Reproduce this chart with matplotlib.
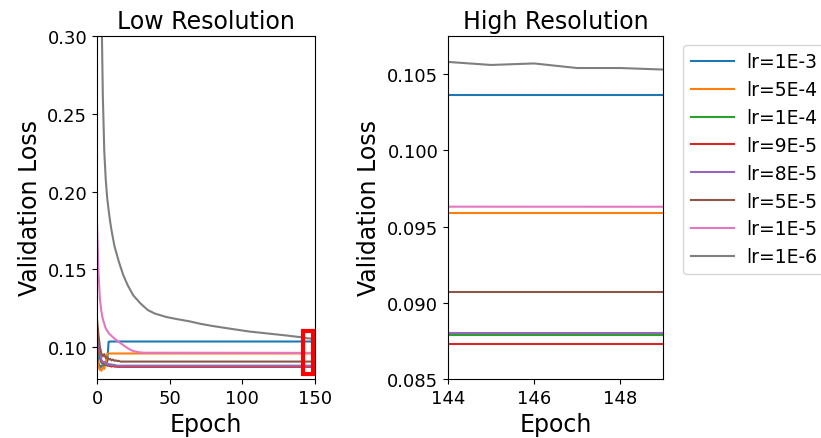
import matplotlib
matplotlib.use("Agg")
import matplotlib.pyplot as plt
from matplotlib.patches import Rectangle

labels = ["lr=1E-3", "lr=5E-4", "lr=1E-4", "lr=9E-5", "lr=8E-5", "lr=5E-5", "lr=1E-5", "lr=1E-6"]
colors = ["#1f77b4", "#ff7f0e", "#2ca02c", "#d62728", "#9467bd", "#8c564b", "#e377c2", "#7f7f7f"]

ep_1e3 = [0, 1, 2, 3, 4, 5, 6, 7, 8, 9, 149]
loss_1e3 = [0.0985, 0.0900, 0.0865, 0.0880, 0.0870, 0.0890, 0.0900, 0.0905, 0.1034, 0.1036, 0.1036]

ep_5e4 = [0, 1, 2, 3, 4, 5, 6, 7, 8, 149]
loss_5e4 = [0.0930, 0.0875, 0.0855, 0.0848, 0.0870, 0.0860, 0.0905, 0.0955, 0.0959, 0.0959]

ep_1e4 = [0, 1, 2, 3, 4, 5, 6, 7, 8, 9, 10, 11, 12, 13, 14, 149]
loss_1e4 = [0.1080, 0.0980, 0.0930, 0.0900, 0.0890, 0.0885, 0.0895, 0.0880, 0.0890, 0.0882,
            0.0888, 0.0880, 0.0885, 0.0880, 0.0879, 0.0879]

ep_9e5 = [0, 1, 2, 3, 4, 5, 6, 7, 8, 9, 10, 11, 12, 13, 14, 149]
loss_9e5 = [0.1100, 0.1000, 0.0940, 0.0910, 0.0895, 0.0900, 0.0885, 0.0890, 0.0880, 0.0878,
            0.0875, 0.0880, 0.0874, 0.0875, 0.0873, 0.0873]

ep_8e5 = [0, 1, 2, 3, 4, 5, 6, 7, 8, 9, 10, 11, 12, 13, 14, 149]
loss_8e5 = [0.1120, 0.1030, 0.0960, 0.0920, 0.0900, 0.0905, 0.0890, 0.0895, 0.0885, 0.0890,
            0.0883, 0.0887, 0.0881, 0.0882, 0.0880, 0.0880]

ep_5e5 = [0, 1, 2, 3, 4, 5, 6, 7, 8, 9, 10, 11, 12, 13, 14, 15, 16, 149]
loss_5e5 = [0.1180, 0.1080, 0.1000, 0.0960, 0.0940, 0.0955, 0.0930, 0.0935, 0.0920, 0.0925,
            0.0915, 0.0920, 0.0912, 0.0915, 0.0910, 0.0912, 0.0907, 0.0907]

ep_1e5 = [0, 1, 2, 3, 4, 5, 6, 8, 10, 12, 14, 17, 20, 22, 24, 26, 28, 30, 32, 149]
loss_1e5 = [0.1800, 0.1480, 0.1310, 0.1230, 0.1180, 0.1150, 0.1120, 0.1090, 0.1072, 0.1055,
            0.1040, 0.1020, 0.1000, 0.0988, 0.0978, 0.0972, 0.0968, 0.0966, 0.0964, 0.0963]

ep_1e6 = [0, 1, 2, 3, 4, 5, 6, 7, 8, 9, 10, 12, 15, 18, 21, 25, 30, 35, 40, 48, 55, 64,
          71, 80, 94, 105, 117, 130, 140, 144, 145, 146, 147, 148, 149]
loss_1e6 = [1.0000, 0.6000, 0.4200, 0.3250, 0.2620, 0.2260, 0.2080, 0.1960, 0.1880, 0.1810,
            0.1750, 0.1650, 0.1550, 0.1465, 0.1400, 0.1332, 0.1280, 0.1238, 0.1215, 0.1193,
            0.1180, 0.1165, 0.1150, 0.1135, 0.1115, 0.1100, 0.1088, 0.1075, 0.1064, 0.1058,
            0.1056, 0.1057, 0.1054, 0.1054, 0.1053]

epochs = [ep_1e3, ep_5e4, ep_1e4, ep_9e5, ep_8e5, ep_5e5, ep_1e5, ep_1e6]
losses = [loss_1e3, loss_5e4, loss_1e4, loss_9e5, loss_8e5, loss_5e5, loss_1e5, loss_1e6]

fig = plt.figure(figsize=(8.21, 4.39), dpi=100)
ax1 = fig.add_axes([97 / 821, 1 - 380 / 439, 218 / 821, 343 / 439])
ax2 = fig.add_axes([448 / 821, 1 - 380 / 439, 215 / 821, 343 / 439])

for ep, ls, lab, c in zip(epochs, losses, labels, colors):
    ax1.plot(ep, ls, color=c, lw=1.5, label=lab)
    ax2.plot(ep, ls, color=c, lw=1.5, label=lab)

tick_fs = 13
label_fs = 17
title_fs = 17

ax1.set_xlim(0, 150)
ax1.set_ylim(0.0795, 0.30)
ax1.set_xticks([0, 50, 100, 150])
ax1.set_yticks([0.10, 0.15, 0.20, 0.25, 0.30])
ax1.set_yticklabels(["0.10", "0.15", "0.20", "0.25", "0.30"])
ax1.set_title("Low Resolution", fontsize=title_fs)
ax1.set_xlabel("Epoch", fontsize=label_fs)
ax1.set_ylabel("Validation Loss", fontsize=label_fs)
ax1.tick_params(labelsize=tick_fs)
ax1.add_patch(Rectangle((141.5, 0.0828), 7.1, 0.0274, fill=False, edgecolor="red",
                        lw=3, clip_on=False, zorder=5))

ax2.set_xlim(144, 149)
ax2.set_ylim(0.085, 0.1075)
ax2.set_xticks([144, 146, 148])
ax2.set_yticks([0.085, 0.090, 0.095, 0.100, 0.105])
ax2.set_yticklabels(["0.085", "0.090", "0.095", "0.100", "0.105"])
ax2.set_title("High Resolution", fontsize=title_fs)
ax2.set_xlabel("Epoch", fontsize=label_fs)
ax2.set_ylabel("Validation Loss", fontsize=label_fs)
ax2.tick_params(labelsize=tick_fs)

ax2.legend(loc="upper left", bbox_to_anchor=(683 / 821, 1 - 46 / 439),
           bbox_transform=fig.transFigure, borderaxespad=0, fontsize=13.5,
           handlelength=2.3, handletextpad=0.65, labelspacing=0.47)

fig.savefig("out.png", dpi=100)
